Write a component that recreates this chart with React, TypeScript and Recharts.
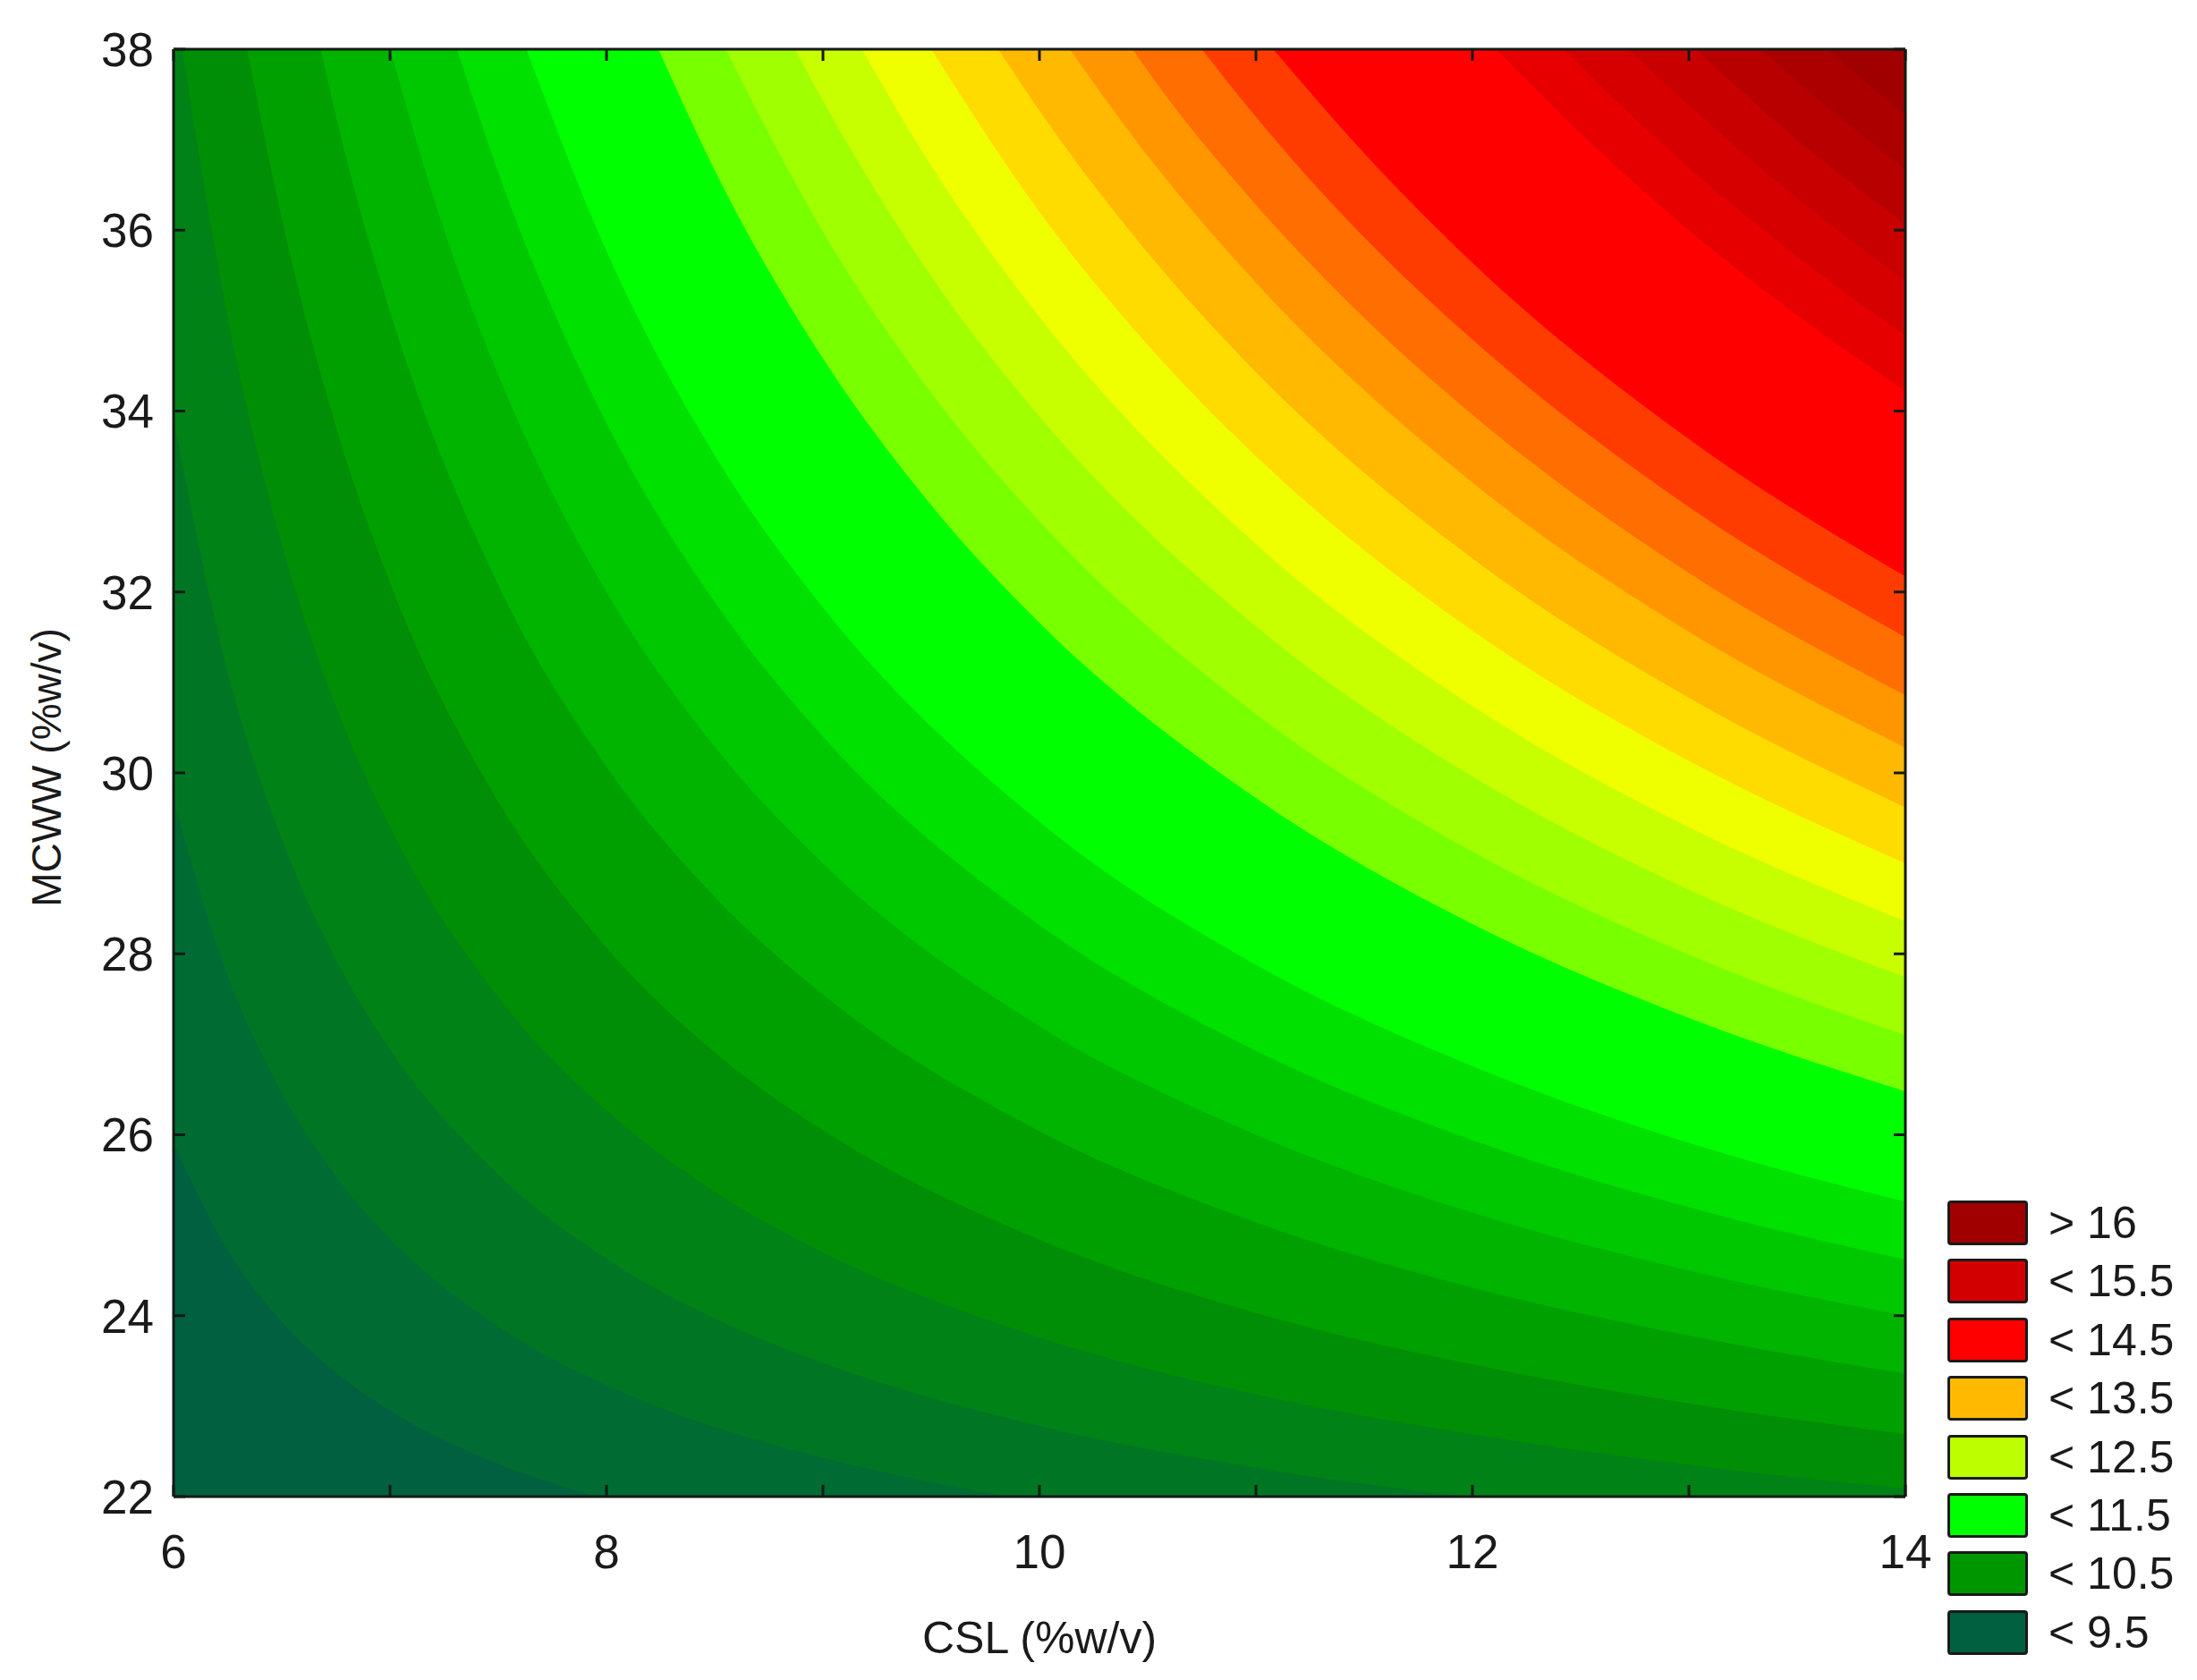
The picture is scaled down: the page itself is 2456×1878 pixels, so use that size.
import React from "react";
import { Area, CartesianGrid, ComposedChart, XAxis, YAxis } from "recharts";

// contour boundaries, [CSL, MCWW] points (lowest level first)
const b01 = [[6, 25.9], [6.25, 24.72], [6.5, 23.93], [6.75, 23.37], [7, 22.95], [7.5, 22.36], [8, 21.97], [9, 21.48], [10, 21.18], [12, 20.84], [14, 20.66]];
const b02 = [[6, 29.7], [6.25, 27.76], [6.5, 26.47], [6.75, 25.54], [7, 24.85], [7.5, 23.88], [8, 23.23], [8.5, 22.77], [9, 22.43], [10, 21.94], [12, 21.39], [14, 21.08]];
const b03 = [[6, 33.9], [6.25, 31.12], [6.5, 29.27], [6.75, 27.94], [7, 26.95], [7.5, 25.56], [8, 24.63], [8.5, 23.97], [9, 23.48], [10, 22.78], [11, 22.32], [12, 21.99], [14, 21.54]];
const b04 = [[6.04, 38], [6.12, 36.79], [6.25, 35.04], [6.5, 32.53], [6.75, 30.74], [7, 29.4], [7.5, 27.52], [8, 26.27], [8.5, 25.37], [9, 24.7], [10, 23.76], [11, 23.13], [12, 22.69], [13, 22.35], [14, 22.09]];
const b05 = [[6.34, 38], [6.5, 36.13], [6.75, 33.83], [7, 32.1], [7.5, 29.68], [8, 28.07], [8.5, 26.91], [9, 26.05], [10, 24.84], [11, 24.03], [12, 23.46], [13, 23.03], [14, 22.69]];
const b06 = [[6.68, 38], [6.75, 37.26], [7, 35.1], [7.5, 32.08], [8, 30.07], [8.5, 28.63], [9, 27.55], [10, 26.04], [11, 25.03], [12, 24.31], [13, 23.78], [14, 23.36]];
const b07 = [[7, 38], [7.25, 36], [7.5, 34.4], [8, 32], [8.5, 30.29], [9, 29], [10, 27.2], [11, 26], [12, 25.14], [13, 24.5], [14, 24]];
const b08 = [[7.31, 38], [7.5, 36.64], [8, 33.87], [8.5, 31.89], [9, 30.4], [10, 28.32], [11, 26.93], [12, 25.94], [13, 25.2], [14, 24.62]];
const b09 = [[7.63, 38], [8, 35.77], [8.5, 33.51], [9, 31.83], [10, 29.46], [11, 27.88], [12, 26.76], [13, 25.91], [14, 25.26]];
const b10 = [[8.24, 38], [8.5, 36.66], [9, 34.58], [9.5, 32.96], [10, 31.66], [11, 29.72], [12, 28.33], [13, 27.29], [14, 26.48]];
const b11 = [[8.55, 38], [9, 35.98], [9.5, 34.2], [10, 32.78], [11, 30.65], [12, 29.13], [13, 27.99], [14, 27.1]];
const b12 = [[8.87, 38], [9, 37.43], [9.5, 35.49], [10, 33.94], [11, 31.62], [12, 29.96], [13, 28.71], [14, 27.74]];
const b13 = [[9.18, 38], [9.5, 36.71], [10, 35.04], [11, 32.53], [12, 30.74], [13, 29.4], [14, 28.36]];
const b14 = [[9.5, 38], [10, 36.2], [10.5, 34.73], [11, 33.5], [12, 31.57], [13, 30.13], [14, 29]];
const b15 = [[9.81, 38], [10, 37.32], [10.5, 35.75], [11, 34.43], [12, 32.37], [13, 30.83], [14, 29.62]];
const b16 = [[10.14, 38], [10.5, 36.82], [11, 35.42], [12, 33.21], [13, 31.56], [14, 30.28]];
const b17 = [[10.43, 38], [10.5, 37.76], [11, 36.28], [11.5, 35.03], [12, 33.96], [13, 32.21], [14, 30.86]];
const b18 = [[10.75, 38], [11, 37.25], [11.5, 35.92], [12, 34.79], [13, 32.94], [14, 31.5]];
const b19 = [[11.08, 38], [11.5, 36.85], [12, 35.64], [13, 33.69], [14, 32.17]];
const b20 = [[12.11, 38], [12.5, 37.07], [13, 36], [13.5, 35.06], [14, 34.22]];
const b21 = [[12.42, 38], [12.75, 37.23], [13, 36.69], [13.5, 35.71], [14, 34.83]];
const b22 = [[12.72, 38], [13, 37.38], [13.5, 36.35], [14, 35.44]];
const b23 = [[13.03, 38], [13.5, 37], [14, 36.06]];
const b24 = [[13.33, 38], [13.67, 37.3], [14, 36.67]];
const b25 = [[13.64, 38], [13.82, 37.63], [14, 37.28]];

const boundaries = [b01, b02, b03, b04, b05, b06, b07, b08, b09, b10, b11, b12, b13, b14, b15, b16, b17, b18, b19, b20, b21, b22, b23, b24, b25];

// colour of the band lying above each boundary
const baseColor = "#00603f";
const bandColors = [
  "#006b32", "#007624", "#008216", "#008e06", "#00a000", "#00b400", "#00c800", "#00e100",
  "#00ff00", "#78ff00", "#a0ff00", "#c8ff00", "#f0ff00", "#ffdc00", "#ffb900", "#ff9600",
  "#ff6e00", "#ff3c00", "#ff0000", "#e60000", "#d70000", "#c80000", "#b90000", "#ac0000", "#a00000",
];

const legendLabels = ["> 16", "< 15.5", "< 14.5", "< 13.5", "< 12.5", "< 11.5", "< 10.5", "< 9.5"];
const legendColors = ["#a00000", "#d20000", "#ff0000", "#ffb900", "#beff00", "#00ff00", "#009600", "#00603f"];

const xTicks = [6, 7, 8, 9, 10, 11, 12, 13, 14];
const yTicks = [22, 24, 26, 28, 30, 32, 34, 36, 38];

const rowsByX: Record<string, any> = {};
boundaries.forEach((pts, i) => {
  pts.forEach(([x, y]) => {
    const key = String(x);
    if (!rowsByX[key]) rowsByX[key] = { x };
    rowsByX[key][`b${i}`] = y;
  });
});
const table = Object.values(rowsByX).sort((a: any, b: any) => a.x - b.x);

const font = "'Liberation Sans', Arial, sans-serif";
const ink = "#1a1a1a";
const tickStyle = { fill: ink, fontSize: 53, fontFamily: font };
const frameLine = { stroke: "#141a14", strokeWidth: 3 };
const blank = () => "";
const evenOnly = (v: number) => (v % 2 === 0 ? String(v) : "");

function YTitle({ viewBox }: any) {
  const x = viewBox.x + 44;
  const y = viewBox.y + viewBox.height / 2 - 6;
  return (
    <text x={x} y={y} transform={`rotate(-90 ${x} ${y})`} textAnchor="middle" dominantBaseline="central" fontSize={46} fontFamily={font} fill={ink}>
      MCWW (%w/v)
    </text>
  );
}

function XTitle({ viewBox }: any) {
  return (
    <text x={viewBox.x + viewBox.width / 2} y={viewBox.y + 175} textAnchor="middle" fontSize={50} fontFamily={font} fill={ink}>
      CSL (%w/v)
    </text>
  );
}

export default function App() {
  return (
    <div style={{ position: "relative", width: 2440, height: 1862 }}>
      <ComposedChart width={2440} height={1862} data={table} margin={{ top: 46, right: 317, bottom: 0, left: 0 }}>
        <CartesianGrid xAxisId="x" yAxisId="y" horizontal={false} vertical={false} fill={baseColor} stroke="none" />
        <XAxis
          xAxisId="x"
          dataKey="x"
          type="number"
          domain={[6, 14]}
          allowDataOverflow
          ticks={xTicks}
          interval={0}
          height={197}
          tickSize={-13}
          tickMargin={55}
          tickLine={frameLine}
          tickFormatter={evenOnly}
          axisLine={frameLine}
          tick={tickStyle}
          label={<XTitle />}
        />
        <XAxis
          xAxisId="xt"
          dataKey="x"
          orientation="top"
          type="number"
          domain={[6, 14]}
          allowDataOverflow
          ticks={xTicks}
          interval={0}
          height={1}
          tickSize={-13}
          tickLine={frameLine}
          tickFormatter={blank}
          axisLine={frameLine}
        />
        <YAxis
          yAxisId="y"
          type="number"
          domain={[22, 38]}
          allowDataOverflow
          ticks={yTicks}
          interval={0}
          width={186}
          tickSize={-13}
          tickMargin={35}
          tickLine={frameLine}
          axisLine={frameLine}
          tick={tickStyle}
          label={<YTitle />}
        />
        <YAxis
          yAxisId="yr"
          orientation="right"
          type="number"
          domain={[22, 38]}
          allowDataOverflow
          ticks={yTicks}
          interval={0}
          width={1}
          tickSize={-13}
          tickLine={frameLine}
          tickFormatter={blank}
          axisLine={frameLine}
        />
        {boundaries.map((_, i) => (
          <Area
            key={i}
            xAxisId="x"
            yAxisId="y"
            dataKey={`b${i}`}
            type="monotone"
            baseValue={38}
            connectNulls
            stroke="none"
            fill={bandColors[i]}
            fillOpacity={1}
            dot={false}
            activeDot={false}
            isAnimationActive={false}
          />
        ))}
      </ComposedChart>
      <div style={{ position: "absolute", left: 2169, top: 1334, fontFamily: font, color: ink }}>
        {legendLabels.map((label, i) => (
          <div key={label} style={{ position: "absolute", left: 0, top: i * 65.4, height: 50, width: 260, display: "flex", alignItems: "center" }}>
            <div style={{ width: 84, height: 44, background: legendColors[i], border: "3px solid #1a1a1a", borderRadius: 4 }} />
            <span style={{ marginLeft: 23, fontSize: 50, lineHeight: "50px" }}>{label}</span>
          </div>
        ))}
      </div>
    </div>
  );
}
